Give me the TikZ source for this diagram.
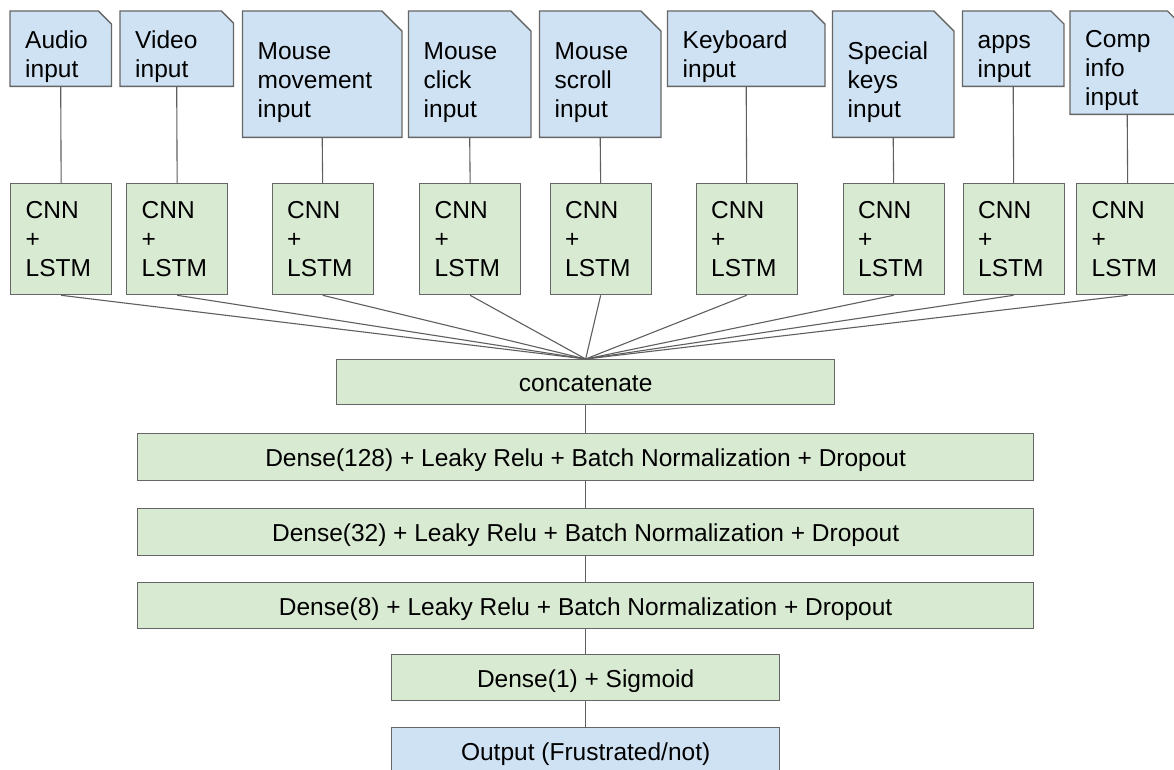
\documentclass[tikz,border=0pt]{standalone}
\usepackage{fontspec}
\setmainfont{Liberation Sans}
\usetikzlibrary{backgrounds}

\definecolor{docblue}{HTML}{CFE2F3}
\definecolor{layergreen}{HTML}{D9EAD3}
\definecolor{edgegray}{HTML}{666666}
\definecolor{wiregray}{HTML}{5F5F5F}

\begin{document}
\begin{tikzpicture}[x=1pt,y=-1pt,
  labelfont/.style={font=\fontsize{24.5}{29}\selectfont},
  docnode/.style={labelfont, draw=none, inner xsep=15pt, inner ysep=0pt,
    align=left, anchor=north west, text height=33pt},
  docshape/.style={fill=docblue, draw=edgegray, line width=1.3pt, line join=miter},
  cnnbox/.style={labelfont, draw=edgegray, fill=layergreen, line width=1.3pt,
    inner xsep=15pt, inner ysep=0pt, align=left, anchor=north west,
    text width=71pt, minimum height=111pt},
  layerbox/.style={labelfont, draw=edgegray, fill=layergreen, line width=1.3pt,
    inner sep=0pt, anchor=north west, text height=24pt, text depth=5pt},
  outbox/.style={layerbox, fill=docblue},
  wire/.style={draw=wiregray, line width=1.1pt}
]
\useasboundingbox (0,0) rectangle (1174,770);

% input documents (folded-corner notes)
\node[docnode, text width=71pt,  minimum height=75pt]  (audio)    at (10,11)    {Audio\\input};
\node[docnode, text width=83pt,  minimum height=75pt]  (video)    at (120,11)   {Video\\input};
\node[docnode, text width=129pt, minimum height=126pt] (mmove)    at (242.5,11) {Mouse\\movement\\input};
\node[docnode, text width=92pt,  minimum height=126pt] (mclick)   at (408.5,11) {Mouse\\click\\input};
\node[docnode, text width=91pt,  minimum height=126pt] (mscroll)  at (539.5,11) {Mouse\\scroll\\input};
\node[docnode, text width=127pt, minimum height=75pt]  (keyboard) at (667.5,11) {Keyboard\\input};
\node[docnode, text width=91pt,  minimum height=126pt] (special)  at (832.5,11) {Special\\keys\\input};
\node[docnode, text width=71pt,  minimum height=75pt]  (apps)     at (962.5,11) {apps\\input};
\node[docnode, text width=84pt,  minimum height=103pt] (comp)     at (1070,11)  {Comp\\info\\input};

\begin{scope}[on background layer]
  \fill[white] (0,0) rectangle (1174,770);
  \foreach \n/\f in {audio/13,video/12,mmove/20,mclick/20,mscroll/20,
                     keyboard/13,special/20,apps/13,comp/17}{
    \draw[docshape] (\n.south west) -- (\n.north west)
      -- ([xshift=-\f pt]\n.north east) -- ([yshift=-\f pt]\n.north east)
      -- (\n.south east) -- cycle;
  }
\end{scope}

% per-input feature extractors
\node[cnnbox] (c1) at (10,183)     {CNN\\+\\LSTM};
\node[cnnbox] (c2) at (126,183)    {CNN\\+\\LSTM};
\node[cnnbox] (c3) at (271.5,183)  {CNN\\+\\LSTM};
\node[cnnbox] (c4) at (419,183)    {CNN\\+\\LSTM};
\node[cnnbox] (c5) at (549.5,183)  {CNN\\+\\LSTM};
\node[cnnbox] (c6) at (695.5,183)  {CNN\\+\\LSTM};
\node[cnnbox] (c7) at (842.5,183)  {CNN\\+\\LSTM};
\node[cnnbox] (c8) at (962.5,183)  {CNN\\+\\LSTM};
\node[cnnbox, text width=72pt] (c9) at (1076,183) {CNN\\+\\LSTM};

% fusion and classifier head
\node[layerbox, minimum width=498pt, minimum height=45pt] (concat) at (336,359) {concatenate};
\node[layerbox, minimum width=896pt, minimum height=47pt] (d128) at (137,433)
  {Dense(128) + Leaky Relu + Batch Normalization + Dropout};
\node[layerbox, minimum width=896pt, minimum height=47pt] (d32) at (137,508)
  {Dense(32) + Leaky Relu + Batch Normalization + Dropout};
\node[layerbox, minimum width=896pt, minimum height=46pt] (d8) at (137,582)
  {Dense(8) + Leaky Relu + Batch Normalization + Dropout};
\node[layerbox, minimum width=388pt, minimum height=46pt] (d1) at (391,654)
  {Dense(1) + Sigmoid};
\node[outbox, minimum width=388pt, minimum height=46pt] (out) at (391,727)
  {Output (Frustrated/not)};

% connectors
\foreach \d/\c in {audio/c1,video/c2,mmove/c3,mclick/c4,mscroll/c5,
                   keyboard/c6,special/c7,apps/c8,comp/c9}{
  \draw[wire] (\d.south) -- (\c.north);
}
\foreach \c in {c1,c2,c3,c4,c5,c6,c7,c8,c9}{
  \draw[wire] (\c.south) -- (concat.north);
}
\draw[wire] (concat.south) -- (d128.north);
\draw[wire] (d128.south) -- (d32.north);
\draw[wire] (d32.south) -- (d8.north);
\draw[wire] (d8.south) -- (d1.north);
\draw[wire] (d1.south) -- (out.north);
\end{tikzpicture}
\end{document}
